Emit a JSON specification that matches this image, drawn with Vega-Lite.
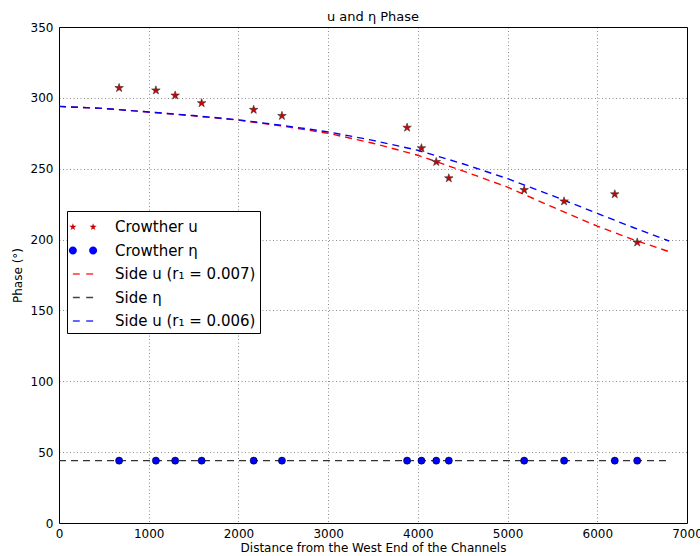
{
  "$schema": "https://vega.github.io/schema/vega-lite/v6.json",
  "width": 628,
  "height": 496,
  "autosize": {"type": "none"},
  "padding": {"left": 59, "top": 27, "right": 13, "bottom": 33},
  "background": "white",
  "title": {"text": "u and η Phase", "fontSize": 13, "fontWeight": "normal", "color": "black", "offset": -3},
  "config": {
    "font": "DejaVu Sans",
    "view": {"stroke": "black", "strokeWidth": 1},
    "axis": {
      "labelFontSize": 12, "labelColor": "black", "labelFlush": false,
      "titleFontSize": 12, "titleFontWeight": "normal", "titleColor": "black",
      "domain": false, "ticks": false,
      "gridColor": "#000000", "gridOpacity": 0.45, "gridDash": [1, 2.5], "gridWidth": 1
    }
  },
  "data": {
    "values": [
      {"kind": "obs", "dist": 670, "u": 307, "eta": 44},
      {"kind": "obs", "dist": 1080, "u": 305.3, "eta": 44},
      {"kind": "obs", "dist": 1295, "u": 301.7, "eta": 44},
      {"kind": "obs", "dist": 1590, "u": 296.3, "eta": 44},
      {"kind": "obs", "dist": 2170, "u": 291.6, "eta": 44},
      {"kind": "obs", "dist": 2485, "u": 287.3, "eta": 44},
      {"kind": "obs", "dist": 3880, "u": 279, "eta": 44},
      {"kind": "obs", "dist": 4040, "u": 264.5, "eta": 44},
      {"kind": "obs", "dist": 4205, "u": 254.8, "eta": 44},
      {"kind": "obs", "dist": 4345, "u": 243.3, "eta": 44},
      {"kind": "obs", "dist": 5185, "u": 235, "eta": 44},
      {"kind": "obs", "dist": 5630, "u": 227, "eta": 44},
      {"kind": "obs", "dist": 6195, "u": 232, "eta": 44},
      {"kind": "obs", "dist": 6445, "u": 198, "eta": 44},
      {"kind": "model", "series": "Side u (r₁ = 0.007)", "dist": 0, "phase": 294},
      {"kind": "model", "series": "Side u (r₁ = 0.007)", "dist": 500, "phase": 292.5},
      {"kind": "model", "series": "Side u (r₁ = 0.007)", "dist": 1000, "phase": 290},
      {"kind": "model", "series": "Side u (r₁ = 0.007)", "dist": 1500, "phase": 287.3},
      {"kind": "model", "series": "Side u (r₁ = 0.007)", "dist": 2000, "phase": 284.3},
      {"kind": "model", "series": "Side u (r₁ = 0.007)", "dist": 2500, "phase": 280},
      {"kind": "model", "series": "Side u (r₁ = 0.007)", "dist": 3000, "phase": 275},
      {"kind": "model", "series": "Side u (r₁ = 0.007)", "dist": 3500, "phase": 268},
      {"kind": "model", "series": "Side u (r₁ = 0.007)", "dist": 4000, "phase": 259.5},
      {"kind": "model", "series": "Side u (r₁ = 0.007)", "dist": 4500, "phase": 248.5},
      {"kind": "model", "series": "Side u (r₁ = 0.007)", "dist": 5000, "phase": 237},
      {"kind": "model", "series": "Side u (r₁ = 0.007)", "dist": 5500, "phase": 223},
      {"kind": "model", "series": "Side u (r₁ = 0.007)", "dist": 6000, "phase": 209.5},
      {"kind": "model", "series": "Side u (r₁ = 0.007)", "dist": 6400, "phase": 200},
      {"kind": "model", "series": "Side u (r₁ = 0.007)", "dist": 6800, "phase": 191.5},
      {"kind": "model", "series": "Side η", "dist": 0, "phase": 44},
      {"kind": "model", "series": "Side η", "dist": 6800, "phase": 44},
      {"kind": "model", "series": "Side u (r₁ = 0.006)", "dist": 0, "phase": 294},
      {"kind": "model", "series": "Side u (r₁ = 0.006)", "dist": 500, "phase": 292.5},
      {"kind": "model", "series": "Side u (r₁ = 0.006)", "dist": 1000, "phase": 290},
      {"kind": "model", "series": "Side u (r₁ = 0.006)", "dist": 1500, "phase": 287.5},
      {"kind": "model", "series": "Side u (r₁ = 0.006)", "dist": 2000, "phase": 284.5},
      {"kind": "model", "series": "Side u (r₁ = 0.006)", "dist": 2500, "phase": 280.5},
      {"kind": "model", "series": "Side u (r₁ = 0.006)", "dist": 3000, "phase": 276},
      {"kind": "model", "series": "Side u (r₁ = 0.006)", "dist": 3500, "phase": 270},
      {"kind": "model", "series": "Side u (r₁ = 0.006)", "dist": 4000, "phase": 263},
      {"kind": "model", "series": "Side u (r₁ = 0.006)", "dist": 4500, "phase": 253.5},
      {"kind": "model", "series": "Side u (r₁ = 0.006)", "dist": 5000, "phase": 243},
      {"kind": "model", "series": "Side u (r₁ = 0.006)", "dist": 5500, "phase": 231},
      {"kind": "model", "series": "Side u (r₁ = 0.006)", "dist": 6000, "phase": 218.5},
      {"kind": "model", "series": "Side u (r₁ = 0.006)", "dist": 6400, "phase": 208.5},
      {"kind": "model", "series": "Side u (r₁ = 0.006)", "dist": 6800, "phase": 199}
    ]
  },
  "layer": [
    {
      "transform": [{"filter": "datum.kind == 'model'"}],
      "mark": {"type": "line", "strokeDash": [7, 5], "strokeWidth": 1.4},
      "encoding": {
        "x": {"field": "dist", "type": "quantitative", "scale": {"domain": [0, 7000], "nice": false},
              "axis": {"values": [0, 1000, 2000, 3000, 4000, 5000, 6000, 7000], "format": "d", "title": "Distance from the West End of the Channels", "labelPadding": 5, "titlePadding": 3, "grid": true}},
        "y": {"field": "phase", "type": "quantitative", "scale": {"domain": [0, 350], "nice": false},
              "axis": {"values": [0, 50, 100, 150, 200, 250, 300, 350], "title": "Phase (°)", "labelPadding": 6, "titlePadding": 6, "grid": true}},
        "stroke": {"field": "series", "type": "nominal", "legend": null,
                   "scale": {"domain": ["Side u (r₁ = 0.007)", "Side η", "Side u (r₁ = 0.006)"],
                             "range": ["#ff0000", "#333333", "#0000ff"]}}
      }
    },
    {
      "transform": [{"filter": "datum.kind == 'obs'"}],
      "mark": {"type": "point", "shape": "M0,-1L0.2245,-0.309L0.951,-0.309L0.363,0.118L0.588,0.809L0,0.382L-0.588,0.809L-0.363,0.118L-0.951,-0.309L-0.2245,-0.309Z", "filled": true, "fill": "#d40000", "stroke": "#333333", "strokeWidth": 0.6, "size": 81, "opacity": 1},
      "encoding": {
        "x": {"field": "dist", "type": "quantitative"},
        "y": {"field": "u", "type": "quantitative"}
      }
    },
    {
      "transform": [{"filter": "datum.kind == 'obs'"}],
      "mark": {"type": "point", "shape": "circle", "filled": true, "fill": "#0000ff", "stroke": "#000000", "strokeWidth": 0.6, "size": 50, "opacity": 1},
      "encoding": {
        "x": {"field": "dist", "type": "quantitative"},
        "y": {"field": "eta", "type": "quantitative"}
      }
    },
    {
      "transform": [{"filter": "datum.kind == 'none'"}],
      "mark": {"type": "point", "filled": true, "strokeWidth": 0.6, "opacity": 1},
      "encoding": {
        "shape": {"field": "series", "type": "nominal",
                  "scale": {"domain": ["Crowther u", "Crowther η", "Side u (r₁ = 0.007)", "Side η", "Side u (r₁ = 0.006)"],
                            "range": [
                              "M-0.88,-0.33L-0.806,-0.102L-0.566,-0.102L-0.76,0.039L-0.686,0.267L-0.88,0.126L-1.074,0.267L-1,0.039L-1.194,-0.102L-0.954,-0.102Z M0.88,-0.33L0.954,-0.102L1.194,-0.102L1,0.039L1.074,0.267L0.88,0.126L0.686,0.267L0.76,0.039L0.566,-0.102L0.806,-0.102Z",
                              "M-0.53,0A0.35,0.35,0,1,1,-1.23,0A0.35,0.35,0,1,1,-0.53,0Z M1.23,0A0.35,0.35,0,1,1,0.53,0A0.35,0.35,0,1,1,1.23,0Z",
                              "M-0.88,-0.06H-0.28V0.06H-0.88Z M0.28,-0.06H0.88V0.06H0.28Z",
                              "M-0.88,-0.06H-0.28V0.06H-0.88Z M0.28,-0.06H0.88V0.06H0.28Z",
                              "M-0.88,-0.06H-0.28V0.06H-0.88Z M0.28,-0.06H0.88V0.06H0.28Z"
                            ]},
                  "legend": {
                    "orient": "none", "legendX": 8, "legendY": 184, "title": null,
                    "labelFontSize": 15, "labelColor": "black", "labelOffset": 20,
                    "strokeColor": "black", "fillColor": "white", "padding": 4,
                    "symbolSize": 529, "rowPadding": 3.5, "symbolStrokeWidth": 0.6, "symbolOpacity": 1
                  }},
        "fill": {"field": "series", "type": "nominal",
                 "scale": {"domain": ["Crowther u", "Crowther η", "Side u (r₁ = 0.007)", "Side η", "Side u (r₁ = 0.006)"],
                           "range": ["#cc0000", "#0000ff", "#ff3333", "#444444", "#3333ff"]},
                 "legend": {
                    "orient": "none", "legendX": 8, "legendY": 184, "title": null,
                    "labelFontSize": 15, "labelColor": "black", "labelOffset": 20,
                    "strokeColor": "black", "fillColor": "white", "padding": 4,
                    "symbolSize": 529, "rowPadding": 3.5, "symbolStrokeWidth": 0.6, "symbolOpacity": 1
                  }}
      }
    }
  ]
}
